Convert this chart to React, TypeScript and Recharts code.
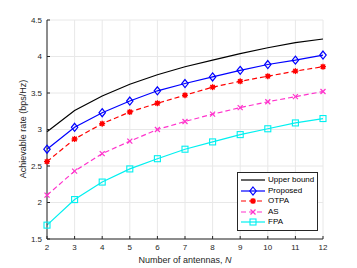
import { CartesianGrid, Label, Legend, Line, LineChart, XAxis, YAxis } from "recharts";

const antennas = [2, 3, 4, 5, 6, 7, 8, 9, 10, 11, 12];
const upperBound = [2.97, 3.26, 3.46, 3.62, 3.75, 3.86, 3.95, 4.04, 4.12, 4.19, 4.24];
const proposed = [2.73, 3.03, 3.23, 3.39, 3.53, 3.63, 3.72, 3.81, 3.89, 3.95, 4.02];
const otpa = [2.56, 2.87, 3.08, 3.24, 3.36, 3.47, 3.58, 3.66, 3.73, 3.8, 3.86];
const as = [2.1, 2.43, 2.67, 2.84, 3.0, 3.11, 3.21, 3.3, 3.38, 3.45, 3.52];
const fpa = [1.69, 2.04, 2.28, 2.46, 2.6, 2.73, 2.83, 2.93, 3.01, 3.09, 3.15];

const xTicks = [2, 3, 4, 5, 6, 7, 8, 9, 10, 11, 12];
const yTicks = [1.5, 2, 2.5, 3, 3.5, 4, 4.5];

const data = antennas.map((n, i) => ({
  n,
  upper: upperBound[i],
  proposed: proposed[i],
  otpa: otpa[i],
  as: as[i],
  fpa: fpa[i],
}));

const FONT = "'Liberation Sans', Arial, Helvetica, sans-serif";
const AXIS = "#262626";

type Marker = "none" | "diamond" | "star" | "x" | "square";

const drawMarker = (m: Marker, cx: number, cy: number, color: string, key?: string | number) => {
  if (m === "diamond")
    return (
      <path key={key} d={`M${cx},${cy - 4}L${cx + 3.2},${cy}L${cx},${cy + 4}L${cx - 3.2},${cy}Z`} fill="none" stroke={color} strokeWidth={1.2} />
    );
  if (m === "star")
    return (
      <g key={key} stroke={color} strokeWidth={1.3}>
        <circle cx={cx} cy={cy} r={2.2} fill={color} stroke="none" />
        <line x1={cx - 3} y1={cy} x2={cx + 3} y2={cy} />
        <line x1={cx} y1={cy - 3} x2={cx} y2={cy + 3} />
        <line x1={cx - 2.2} y1={cy - 2.2} x2={cx + 2.2} y2={cy + 2.2} />
        <line x1={cx - 2.2} y1={cy + 2.2} x2={cx + 2.2} y2={cy - 2.2} />
      </g>
    );
  if (m === "x")
    return (
      <g key={key} stroke={color} strokeWidth={1.2}>
        <line x1={cx - 2.5} y1={cy - 2.5} x2={cx + 2.5} y2={cy + 2.5} />
        <line x1={cx - 2.5} y1={cy + 2.5} x2={cx + 2.5} y2={cy - 2.5} />
      </g>
    );
  if (m === "square")
    return <rect key={key} x={cx - 3} y={cy - 3} width={6} height={6} fill="none" stroke={color} strokeWidth={1.1} />;
  return <g key={key} />;
};

const series: { key: string; name: string; color: string; dash?: string; marker: Marker }[] = [
  { key: "upper", name: "Upper bound", color: "#000000", marker: "none" },
  { key: "proposed", name: "Proposed", color: "#0000ff", marker: "diamond" },
  { key: "otpa", name: "OTPA", color: "#ff0000", dash: "5 3", marker: "star" },
  { key: "as", name: "AS", color: "#ff33cc", dash: "5 3", marker: "x" },
  { key: "fpa", name: "FPA", color: "#00f0f0", marker: "square" },
];

const LegendBox = () => (
  <div
    style={{
      border: "1px solid #262626",
      background: "#fff",
      padding: "2px 3px 2px 2px",
      fontFamily: FONT,
      fontSize: 8,
      color: "#000",
      lineHeight: "10.5px",
    }}
  >
    {series.map((s) => (
      <div key={s.key} style={{ display: "flex", alignItems: "center", whiteSpace: "nowrap" }}>
        <svg width={26} height={10} style={{ marginRight: 2 }}>
          <line x1={1} y1={5} x2={25} y2={5} stroke={s.color} strokeWidth={1.2} strokeDasharray={s.dash} />
          {drawMarker(s.marker, 13, 5, s.color)}
        </svg>
        <span>{s.name}</span>
      </div>
    ))}
  </div>
);

const XLabel = (props: any) => {
  const vb = props.viewBox;
  return (
    <text x={vb.x + vb.width / 2} y={263} textAnchor="middle" fontFamily={FONT} fontSize={9} fill={AXIS}>
      Number of antennas, <tspan fontStyle="italic">N</tspan>
    </text>
  );
};

const YLabel = () => (
  <text x={26} y={129} transform="rotate(-90 26 129)" textAnchor="middle" fontFamily={FONT} fontSize={9} fill={AXIS}>
    Achievable rate (bps/Hz)
  </text>
);

export default function App() {
  const tickStyle = { fontSize: 8, fill: AXIS, fontFamily: FONT };
  return (
    <div style={{ position: "absolute", left: 0, top: 0, width: 357, height: 268, background: "#fff" }}>
      <LineChart width={357} height={268} data={data} margin={{ top: 20, right: 34, left: 17, bottom: 9 }}>
        <CartesianGrid stroke="#e8e8e8" strokeWidth={1} />
        <XAxis
          dataKey="n"
          type="number"
          domain={[2, 12]}
          ticks={xTicks}
          height={20}
          tickSize={-3}
          tickMargin={8}
          stroke={AXIS}
          tick={tickStyle}
          interval={0}
        >
          <Label content={XLabel} />
        </XAxis>
        <XAxis
          xAxisId="top"
          orientation="top"
          dataKey="n"
          type="number"
          domain={[2, 12]}
          ticks={xTicks}
          height={0}
          tickSize={-3}
          tickFormatter={() => ""}
          stroke={AXIS}
        />
        <YAxis
          type="number"
          domain={[1.5, 4.5]}
          ticks={yTicks}
          width={30}
          tickSize={-3}
          tickMargin={8}
          stroke={AXIS}
          tick={tickStyle}
          interval={0}
        >
          <Label content={YLabel} />
        </YAxis>
        <YAxis
          yAxisId="right"
          orientation="right"
          type="number"
          domain={[1.5, 4.5]}
          ticks={yTicks}
          width={0}
          tickSize={-3}
          tickFormatter={() => ""}
          stroke={AXIS}
        />
        {series.map((s) => (
          <Line
            key={s.key}
            dataKey={s.key}
            name={s.name}
            type="linear"
            stroke={s.color}
            strokeWidth={1.2}
            strokeDasharray={s.dash}
            isAnimationActive={false}
            dot={(p: any) => drawMarker(s.marker, p.cx, p.cy, s.color, `${s.key}-${p.index}`)}
            activeDot={false}
          />
        ))}
        <Legend
          layout="vertical"
          align="center"
          verticalAlign="middle"
          content={() => <LegendBox />}
          wrapperStyle={{ position: "absolute", left: 237, top: 172, width: "auto" }}
        />
      </LineChart>
    </div>
  );
}
